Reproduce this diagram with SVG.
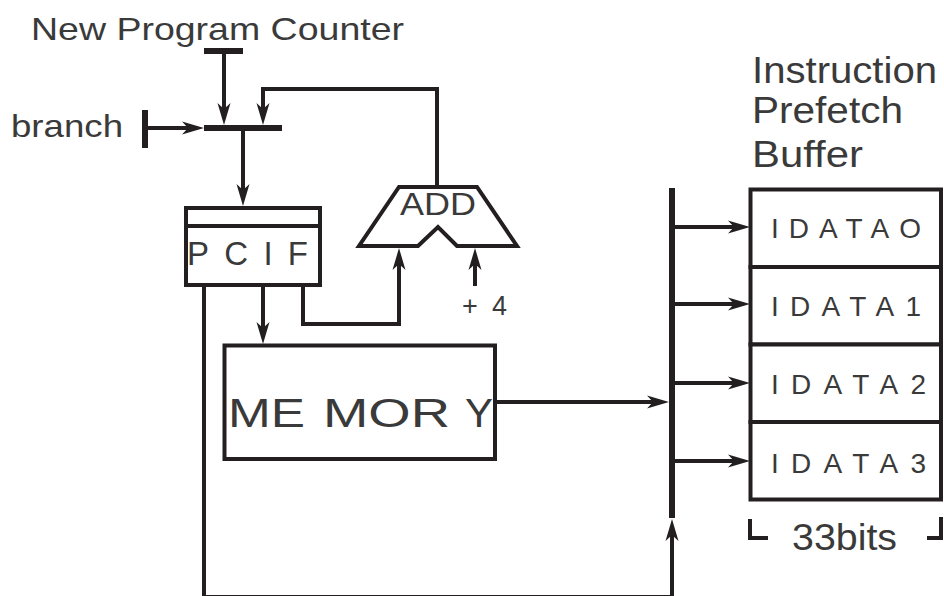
<svg xmlns="http://www.w3.org/2000/svg" width="944" height="596" viewBox="0 0 944 596">
<style>
  .ln{fill:none;stroke:#231f20;stroke-width:4;stroke-linejoin:miter}
  .box{fill:#fff;stroke:#231f20;stroke-width:4}
  .bar{stroke:#231f20;stroke-width:6;fill:none}
  .t{font-family:"Liberation Sans",Arial,sans-serif;fill:#3a3a3a}
  .arr{marker-end:url(#ah)}
</style>
<defs>
  <marker id="ah" markerUnits="userSpaceOnUse" orient="auto" viewBox="-22 -7 22 14" refX="-8" refY="0" markerWidth="22" markerHeight="14" overflow="visible">
    <path d="M0,0 L-22,-6.5 L-16,0 L-22,6.5 Z" fill="#231f20"/>
  </marker>
</defs>
<rect width="944" height="596" fill="#fff"/>

<g id="connectors">
  <path class="ln arr" d="M224,51 V117"/>
  <path class="ln arr" d="M145,128 H196"/>
  <path class="ln arr" d="M437,187 V89 H263 V117"/>
  <path class="ln arr" d="M243,131 V198"/>
  <path class="ln arr" d="M263,286 V336"/>
  <path class="ln arr" d="M303,286 V324 H399 V256"/>
  <path class="ln arr" d="M475,286 V256"/>
  <path class="ln arr" d="M497,402 H661"/>
  <path class="ln arr" d="M204,286 V597 H672 V527"/>
  <path class="ln arr" d="M672,227 H742"/>
  <path class="ln arr" d="M672,304 H742"/>
  <path class="ln arr" d="M672,383 H742"/>
  <path class="ln arr" d="M672,461 H742"/>
</g>

<g id="new-pc">
  <text class="t" x="31" y="40" font-size="32" textLength="373" lengthAdjust="spacingAndGlyphs">New Program Counter</text>
  <line class="bar" x1="204" y1="51" x2="243" y2="51"/>
</g>

<g id="branch">
  <text class="t" x="11" y="137" font-size="32" textLength="112" lengthAdjust="spacingAndGlyphs">branch</text>
  <line class="bar" x1="145" y1="110" x2="145" y2="148"/>
</g>

<g id="mux">
  <line class="bar" x1="204" y1="128" x2="282" y2="128"/>
</g>

<g id="pcif">
  <rect class="box" x="186" y="208" width="134" height="77"/>
  <line class="ln" x1="186" y1="226" x2="320" y2="226"/>
  <text class="t" x="187" y="265" font-size="33" textLength="121" lengthAdjust="spacing">PCIF</text>
</g>

<g id="add">
  <polygon class="box" points="399,187 477,187 517,246 457,246 438,227 418,246 359,246"/>
  <text class="t" x="400" y="215" font-size="32" textLength="76" lengthAdjust="spacingAndGlyphs">ADD</text>
</g>

<g id="plus4">
  <text class="t" x="462" y="315" font-size="27" textLength="45" lengthAdjust="spacing">+ 4</text>
</g>

<g id="memory">
  <rect class="box" x="224.5" y="345.5" width="270.5" height="113.5"/>
  <text class="t" y="427" font-size="40"><tspan x="228" textLength="77" lengthAdjust="spacingAndGlyphs">ME</tspan><tspan x="323" textLength="127" lengthAdjust="spacingAndGlyphs">MOR</tspan><tspan x="465" textLength="28" lengthAdjust="spacingAndGlyphs">Y</tspan></text>
</g>

<g id="bus">
  <line class="bar" x1="672" y1="188" x2="672" y2="518"/>
</g>

<g id="buffer-label">
  <text class="t" x="752" y="83" font-size="36" textLength="185" lengthAdjust="spacingAndGlyphs">Instruction</text>
  <text class="t" x="752" y="123" font-size="36" textLength="151" lengthAdjust="spacingAndGlyphs">Prefetch</text>
  <text class="t" x="752" y="167" font-size="36" textLength="111" lengthAdjust="spacingAndGlyphs">Buffer</text>
</g>

<g id="idata0">
  <rect class="box" x="750.5" y="189.5" width="190.5" height="77.5"/>
  <text class="t" x="771" y="238" font-size="28" textLength="150" lengthAdjust="spacing">IDATAO</text>
</g>
<g id="idata1">
  <rect class="box" x="750.5" y="267" width="190.5" height="77.5"/>
  <text class="t" x="771" y="316" font-size="28" textLength="150" lengthAdjust="spacing">IDATA1</text>
</g>
<g id="idata2">
  <rect class="box" x="750.5" y="344.5" width="190.5" height="77.5"/>
  <text class="t" x="771" y="394" font-size="28" textLength="155" lengthAdjust="spacing">IDATA2</text>
</g>
<g id="idata3">
  <rect class="box" x="750.5" y="422" width="190.5" height="77.5"/>
  <text class="t" x="771" y="473" font-size="28" textLength="155" lengthAdjust="spacing">IDATA3</text>
</g>

<g id="width-label">
  <path class="ln" d="M750,519 V538 H768"/>
  <path class="ln" d="M927,538 H941 V517"/>
  <text class="t" x="792" y="550" font-size="37" textLength="105" lengthAdjust="spacingAndGlyphs">33bits</text>
</g>
</svg>
